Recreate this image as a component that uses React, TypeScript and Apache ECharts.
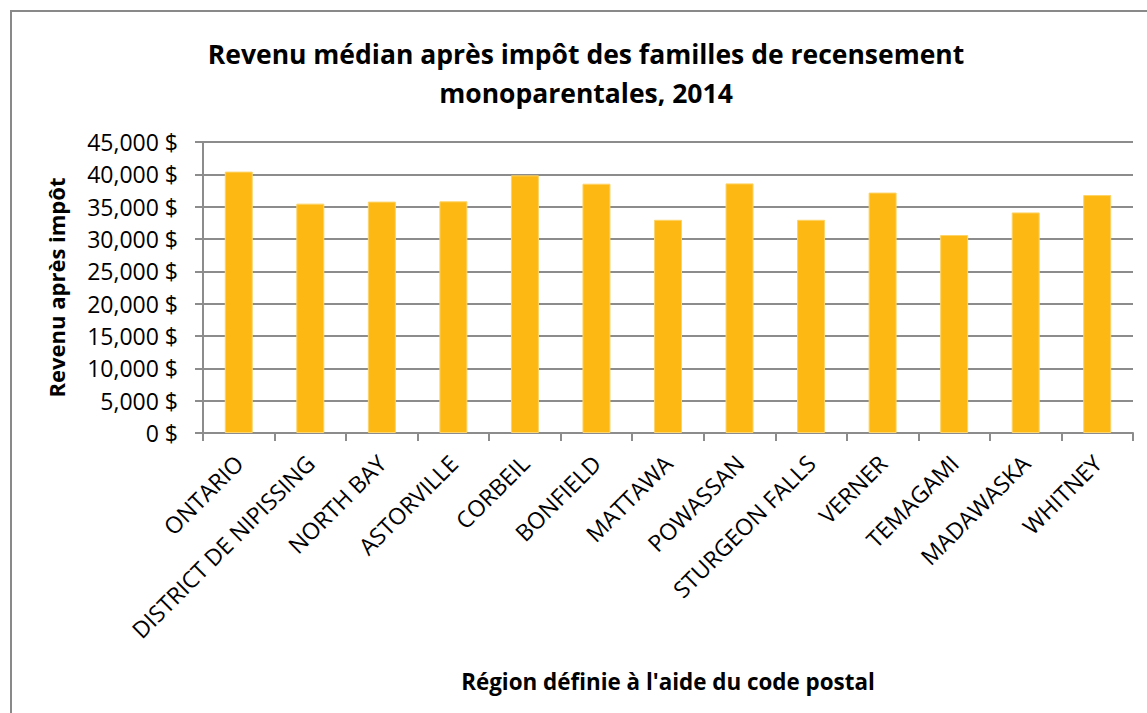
import React, { useEffect, useRef } from "react";
import * as echarts from "echarts";

const categories = [
  "ONTARIO",
  "DISTRICT DE NIPISSING",
  "NORTH BAY",
  "ASTORVILLE",
  "CORBEIL",
  "BONFIELD",
  "MATTAWA",
  "POWASSAN",
  "STURGEON FALLS",
  "VERNER",
  "TEMAGAMI",
  "MADAWASKA",
  "WHITNEY",
];
const revenus = [40420, 35470, 35780, 35830, 39840, 38550, 32970, 38600, 32970, 37180, 30620, 34110, 36800];
const titleLines = ["Revenu médian après impôt des familles de recensement", "monoparentales, 2014"];
const yAxisName = "Revenu après impôt";
const xAxisName = "Région définie à l'aide du code postal";

const FONT = "'Open Sans', 'DejaVu Sans', sans-serif";

export default function App() {
  const ref = useRef<HTMLDivElement>(null);
  useEffect(() => {
    if (!ref.current) return;
    const chart = echarts.init(ref.current, null, { renderer: "svg" });
    const fmt = (v: number) => v.toLocaleString("en-US") + " $";
    chart.setOption({
      animation: false,
      backgroundColor: "#ffffff",
      textStyle: { fontFamily: FONT },
      title: {
        text: titleLines.join("\n"),
        left: 581,
        top: 29,
        textAlign: "center",
        textStyle: { fontFamily: FONT, fontSize: 26.5, fontWeight: "bold", color: "#000", lineHeight: 39 },
      },
      graphic: [
        {
          type: "rect",
          shape: { x: 11, y: 11, width: 1160, height: 730 },
          style: { fill: "none", stroke: "#898989", lineWidth: 2 },
          silent: true,
        },
      ],
      grid: { left: 203, right: 14, top: 142, bottom: 280, containLabel: false },
      xAxis: {
        type: "category",
        data: categories,
        name: xAxisName,
        nameLocation: "middle",
        nameGap: 237,
        nameTextStyle: { fontFamily: FONT, fontSize: 22.4, fontWeight: "bold", color: "#000" },
        axisLine: { lineStyle: { color: "#8c8c8c", width: 2 } },
        axisTick: { show: true, length: 8, lineStyle: { color: "#8c8c8c", width: 2 } },
        axisLabel: { rotate: 45, fontFamily: FONT, fontSize: 23, color: "#000", margin: 26, interval: 0 },
      },
      yAxis: {
        type: "value",
        min: 0,
        max: 45000,
        interval: 5000,
        name: yAxisName,
        nameLocation: "middle",
        nameGap: 136,
        nameTextStyle: { fontFamily: FONT, fontSize: 22, fontWeight: "bold", color: "#000" },
        axisLine: { show: true, lineStyle: { color: "#8c8c8c", width: 2 } },
        axisTick: { show: true, length: 8, lineStyle: { color: "#8c8c8c", width: 2 } },
        axisLabel: { formatter: fmt, fontFamily: FONT, fontSize: 23, color: "#000", margin: 25 },
        splitLine: { lineStyle: { color: "#8c8c8c", width: 2 } },
      },
      series: [
        {
          type: "bar",
          data: revenus,
          barWidth: 28,
          itemStyle: { color: "#FDB813", borderColor: "#FCD46A", borderWidth: 1 },
        },
      ],
    });
    return () => chart.dispose();
  }, []);
  return <div ref={ref} style={{ position: "fixed", left: 0, top: 0, width: 1147, height: 713 }} />;
}
